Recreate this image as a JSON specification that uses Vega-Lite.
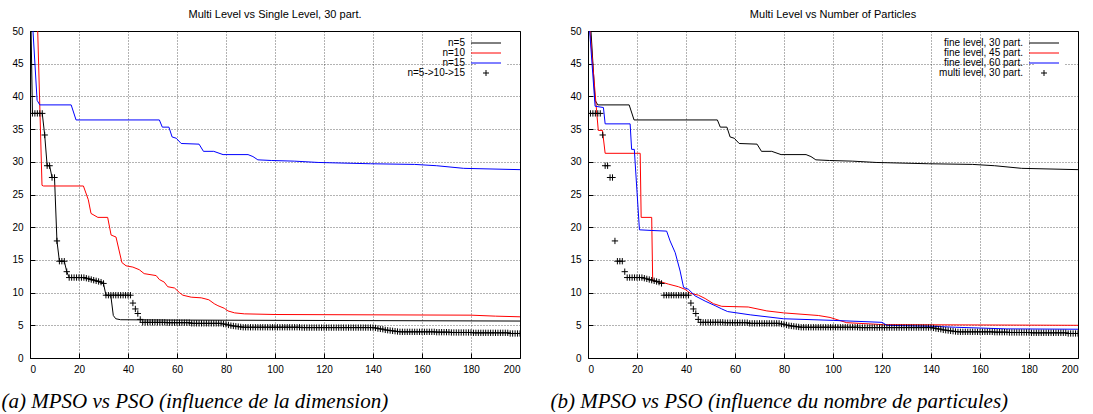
{
"$schema": "https://vega.github.io/schema/vega-lite/v6.json",
"padding": {"left": 0, "top": 8, "right": 0, "bottom": 0},
"background": "white",
"spacing": 68,
"bounds": "flush",
"config": {
  "font": "Liberation Sans",
  "view": {"stroke": "#000", "strokeWidth": 1},
  "axis": {"grid": true, "gridColor": "#000", "gridDash": [1, 2], "gridOpacity": 0.75, "gridWidth": 0.8, "domain": false, "ticks": true, "tickSize": -5, "tickColor": "#000", "tickWidth": 1, "labelFont": "Liberation Sans", "labelFontSize": 10, "labelColor": "#000"},
  "axisX": {"labelPadding": 11, "titleFont": "Liberation Serif", "titleFontStyle": "italic", "titleFontSize": 21, "titleFontWeight": "normal", "titleColor": "#000", "titleAnchor": "start", "titleAlign": "left", "titleY": 49, "titleBaseline": "alphabetic"},
  "axisY": {"labelPadding": 12},
  "title": {"fontSize": 11, "fontWeight": "normal", "color": "#000", "offset": 6, "font": "Liberation Sans"},
  "legend": {"orient": "none", "padding": 4, "fillColor": "white", "labelFontSize": 10, "labelFont": "Liberation Sans", "labelColor": "#000", "labelAlign": "right", "labelOffset": -26, "symbolType": "M-3.75,0H3.75", "symbolSize": 64, "symbolStrokeWidth": 1, "rowPadding": 0, "labelLimit": 300}
},
"resolve": {"scale": {"color": "independent"}, "legend": {"color": "independent"}},
"datasets": {
  "n5": [{"x":0,"y":60},{"x":1,"y":37.4},{"x":5,"y":37.4},{"x":6,"y":34.1},{"x":7,"y":29.4},{"x":8,"y":29.4},{"x":9,"y":27.6},{"x":10,"y":27.6},{"x":11,"y":17.9},{"x":12,"y":14.8},{"x":14,"y":14.8},{"x":15,"y":13.2},{"x":16,"y":12.3},{"x":22,"y":12.3},{"x":24,"y":12.1},{"x":26,"y":11.9},{"x":28,"y":11.7},{"x":29,"y":11.6},{"x":30,"y":11.4},{"x":31,"y":9.6},{"x":33,"y":9.5},{"x":34,"y":6.5},{"x":35,"y":6.0},{"x":37,"y":5.85},{"x":60,"y":5.8},{"x":200,"y":5.65}],
  "n10": [{"x":2.4,"y":60},{"x":4.9,"y":26.4},{"x":5.5,"y":26.3},{"x":21.8,"y":26.3},{"x":23.8,"y":24.2},{"x":24.9,"y":22.1},{"x":27.7,"y":21.5},{"x":31.7,"y":21.5},{"x":33.1,"y":18.8},{"x":35.1,"y":18.5},{"x":37.5,"y":14.6},{"x":39.2,"y":14.1},{"x":42,"y":13.9},{"x":44.6,"y":13.5},{"x":46.6,"y":12.9},{"x":51.5,"y":12.6},{"x":52.8,"y":12.0},{"x":54.8,"y":11.6},{"x":56.2,"y":10.9},{"x":59,"y":10.7},{"x":61,"y":10.0},{"x":62.4,"y":9.6},{"x":65.8,"y":9.3},{"x":69.9,"y":9.2},{"x":73,"y":8.9},{"x":75.2,"y":8.3},{"x":76.7,"y":8.0},{"x":79.3,"y":7.6},{"x":80.8,"y":7.2},{"x":83.5,"y":6.9},{"x":87.5,"y":6.75},{"x":100,"y":6.65},{"x":180,"y":6.55},{"x":190,"y":6.4},{"x":200,"y":6.3}],
  "n15": [{"x":0.9,"y":52},{"x":2.9,"y":39.4},{"x":4,"y":38.7},{"x":16.8,"y":38.7},{"x":18.8,"y":36.4},{"x":52.8,"y":36.4},{"x":54,"y":35.3},{"x":56.7,"y":35.3},{"x":58,"y":33.8},{"x":59.7,"y":33.6},{"x":61.7,"y":32.8},{"x":69,"y":32.7},{"x":70.8,"y":31.6},{"x":75,"y":31.6},{"x":78.8,"y":31.1},{"x":89,"y":31.1},{"x":91,"y":30.8},{"x":93,"y":30.3},{"x":98.5,"y":30.2},{"x":108,"y":30.1},{"x":117.6,"y":29.9},{"x":139,"y":29.7},{"x":157,"y":29.6},{"x":166,"y":29.4},{"x":177,"y":29.0},{"x":200,"y":28.8}],
  "f45": [{"x":0.4,"y":52},{"x":3.5,"y":37.8},{"x":4.2,"y":34.8},{"x":5.9,"y":34.8},{"x":7,"y":31.3},{"x":21.3,"y":31.3},{"x":21.7,"y":21.5},{"x":26,"y":21.5},{"x":26.4,"y":11.8},{"x":30.1,"y":11.6},{"x":32.8,"y":11.3},{"x":36.9,"y":10.9},{"x":39.6,"y":10.5},{"x":41.7,"y":9.9},{"x":45.1,"y":9.6},{"x":47.8,"y":9.1},{"x":51.2,"y":8.3},{"x":54.6,"y":7.9},{"x":65.4,"y":7.8},{"x":73,"y":7.2},{"x":79.8,"y":6.9},{"x":94,"y":6.5},{"x":98.8,"y":6.2},{"x":105.6,"y":5.4},{"x":120.6,"y":5.1},{"x":200,"y":5.0}],
  "f60": [{"x":0.3,"y":52},{"x":2.9,"y":38.5},{"x":6.3,"y":38.3},{"x":7,"y":35.8},{"x":17.2,"y":35.8},{"x":17.8,"y":31.9},{"x":18.9,"y":31.9},{"x":21,"y":19.6},{"x":26,"y":19.5},{"x":32.1,"y":19.4},{"x":33.5,"y":17.9},{"x":35.6,"y":16.1},{"x":37.6,"y":13.3},{"x":39,"y":10.8},{"x":41,"y":10.5},{"x":43.7,"y":9.5},{"x":47.8,"y":8.7},{"x":51.9,"y":8.0},{"x":54.6,"y":7.5},{"x":57,"y":7.1},{"x":66.2,"y":6.6},{"x":79.8,"y":6.0},{"x":100.2,"y":5.75},{"x":120,"y":5.45},{"x":122,"y":5.0},{"x":140,"y":4.85},{"x":150,"y":4.7},{"x":171,"y":4.45},{"x":200,"y":4.4}],
  "multi": [{"x":1,"y":37.4},{"x":2,"y":37.4},{"x":3,"y":37.4},{"x":4,"y":37.4},{"x":5,"y":37.4},{"x":6,"y":34.1},{"x":7,"y":29.4},{"x":8,"y":29.4},{"x":9,"y":27.6},{"x":10,"y":27.6},
  {"x":11,"y":17.9},{"x":12,"y":14.8},{"x":13,"y":14.8},{"x":14,"y":14.8},{"x":15,"y":13.2},{"x":16,"y":12.3},{"x":17,"y":12.3},{"x":18,"y":12.3},{"x":19,"y":12.3},{"x":20,"y":12.3},
  {"x":21,"y":12.3},{"x":22,"y":12.3},{"x":23,"y":12.2},{"x":24,"y":12.1},{"x":25,"y":12.0},{"x":26,"y":11.9},{"x":27,"y":11.8},{"x":28,"y":11.7},{"x":29,"y":11.6},{"x":30,"y":11.4},
  {"x":31,"y":9.6},{"x":32,"y":9.6},{"x":33,"y":9.6},{"x":34,"y":9.6},{"x":35,"y":9.6},{"x":36,"y":9.6},{"x":37,"y":9.6},{"x":38,"y":9.6},{"x":39,"y":9.6},{"x":40,"y":9.6},
  {"x":41,"y":9.6},{"x":42,"y":8.4},{"x":43,"y":7.5},{"x":44,"y":6.8},{"x":45,"y":5.9},{"x":46,"y":5.45},{"x":47,"y":5.45},{"x":48,"y":5.45},{"x":49,"y":5.45},{"x":50,"y":5.45},
  {"x":51,"y":5.45},{"x":52,"y":5.45},{"x":53,"y":5.45},{"x":54,"y":5.45},{"x":55,"y":5.45},{"x":56,"y":5.4},{"x":57,"y":5.4},{"x":58,"y":5.4},{"x":59,"y":5.4},{"x":60,"y":5.4},
  {"x":61,"y":5.4},{"x":62,"y":5.4},{"x":63,"y":5.4},{"x":64,"y":5.4},{"x":65,"y":5.4},{"x":66,"y":5.3},{"x":67,"y":5.3},{"x":68,"y":5.3},{"x":69,"y":5.3},{"x":70,"y":5.3},
  {"x":71,"y":5.3},{"x":72,"y":5.3},{"x":73,"y":5.3},{"x":74,"y":5.3},{"x":75,"y":5.3},{"x":76,"y":5.3},{"x":77,"y":5.3},{"x":78,"y":5.3},{"x":79,"y":5.2},{"x":80,"y":5.15},
  {"x":81,"y":5.05},{"x":82,"y":4.95},{"x":83,"y":4.9},{"x":84,"y":4.85},{"x":85,"y":4.8},{"x":86,"y":4.75},{"x":87,"y":4.7},{"x":88,"y":4.7},{"x":89,"y":4.7},{"x":90,"y":4.7},
  {"x":91,"y":4.7},{"x":92,"y":4.7},{"x":93,"y":4.7},{"x":94,"y":4.7},{"x":95,"y":4.7},{"x":96,"y":4.7},{"x":97,"y":4.7},{"x":98,"y":4.7},{"x":99,"y":4.7},{"x":100,"y":4.7},
  {"x":101,"y":4.7},{"x":102,"y":4.7},{"x":103,"y":4.7},{"x":104,"y":4.7},{"x":105,"y":4.7},{"x":106,"y":4.7},{"x":107,"y":4.7},{"x":108,"y":4.7},{"x":109,"y":4.7},{"x":110,"y":4.7},
  {"x":111,"y":4.65},{"x":112,"y":4.65},{"x":113,"y":4.65},{"x":114,"y":4.65},{"x":115,"y":4.65},{"x":116,"y":4.65},{"x":117,"y":4.65},{"x":118,"y":4.65},{"x":119,"y":4.65},{"x":120,"y":4.65},
  {"x":121,"y":4.65},{"x":122,"y":4.65},{"x":123,"y":4.65},{"x":124,"y":4.65},{"x":125,"y":4.65},{"x":126,"y":4.65},{"x":127,"y":4.65},{"x":128,"y":4.65},{"x":129,"y":4.65},{"x":130,"y":4.65},
  {"x":131,"y":4.65},{"x":132,"y":4.65},{"x":133,"y":4.65},{"x":134,"y":4.65},{"x":135,"y":4.65},{"x":136,"y":4.65},{"x":137,"y":4.65},{"x":138,"y":4.65},{"x":139,"y":4.65},{"x":140,"y":4.65},
  {"x":141,"y":4.6},{"x":142,"y":4.5},{"x":143,"y":4.45},{"x":144,"y":4.4},{"x":145,"y":4.3},{"x":146,"y":4.25},{"x":147,"y":4.2},{"x":148,"y":4.15},{"x":149,"y":4.1},{"x":150,"y":4.05},
  {"x":151,"y":4.0},{"x":152,"y":4.0},{"x":153,"y":4.0},{"x":154,"y":4.0},{"x":155,"y":4.0},{"x":156,"y":4.0},{"x":157,"y":4.0},{"x":158,"y":4.0},{"x":159,"y":4.0},{"x":160,"y":4.0},
  {"x":161,"y":4.0},{"x":162,"y":4.0},{"x":163,"y":4.0},{"x":164,"y":4.0},{"x":165,"y":4.0},{"x":166,"y":3.95},{"x":167,"y":3.95},{"x":168,"y":3.95},{"x":169,"y":3.95},{"x":170,"y":3.95},
  {"x":171,"y":3.95},{"x":172,"y":3.9},{"x":173,"y":3.9},{"x":174,"y":3.9},{"x":175,"y":3.9},{"x":176,"y":3.9},{"x":177,"y":3.9},{"x":178,"y":3.9},{"x":179,"y":3.9},{"x":180,"y":3.9},
  {"x":181,"y":3.85},{"x":182,"y":3.85},{"x":183,"y":3.85},{"x":184,"y":3.85},{"x":185,"y":3.85},{"x":186,"y":3.85},{"x":187,"y":3.85},{"x":188,"y":3.85},{"x":189,"y":3.85},{"x":190,"y":3.85},
  {"x":191,"y":3.85},{"x":192,"y":3.85},{"x":193,"y":3.85},{"x":194,"y":3.85},{"x":195,"y":3.85},{"x":196,"y":3.75},{"x":197,"y":3.75},{"x":198,"y":3.75},{"x":199,"y":3.75},{"x":200,"y":3.75}]
},
"hconcat": [
  {
    "width": 490, "height": 327,
    "title": "Multi Level vs Single Level, 30 part.",
    "encoding": {
      "x": {"field": "x", "type": "quantitative", "scale": {"domain": [0, 200], "nice": false}, "axis": {"values": [0,20,40,60,80,100,120,140,160,180,200], "title": "(a) MPSO vs PSO (influence de la dimension)", "titleX": -29}},
      "y": {"field": "y", "type": "quantitative", "scale": {"domain": [0, 50], "nice": false}, "axis": {"values": [0,5,10,15,20,25,30,35,40,45,50], "title": null}}
    },
    "layer": [
      {"data": {"name": "n5"}, "mark": {"type": "line", "strokeWidth": 1, "clip": true},
       "encoding": {"color": {"datum": "n=5", "type": "nominal",
         "scale": {"domain": ["n=5", "n=10", "n=15", "n=5->10->15"], "range": ["#000000", "#ff0000", "#0000ff", "#000000"]},
         "legend": {"title": null, "legendX": 447, "legendY": 3, "encode": {"symbols": {"update": {
            "shape": {"signal": "datum.index === 3 ? 'M-0.75,0H0.75M0,-0.75V0.75' : 'M-3.75,0H3.75'"},
            "stroke": {"signal": "datum.index === 1 ? '#ff0000' : datum.index === 2 ? '#0000ff' : '#000000'"},
            "fill": {"value": "transparent"}}}}}}}},
      {"data": {"name": "n10"}, "mark": {"type": "line", "strokeWidth": 1, "clip": true}, "encoding": {"color": {"datum": "n=10", "type": "nominal"}}},
      {"data": {"name": "n15"}, "mark": {"type": "line", "strokeWidth": 1, "clip": true}, "encoding": {"color": {"datum": "n=15", "type": "nominal"}}},
      {"data": {"name": "multi"}, "mark": {"type": "point", "shape": "M-1,0H1M0,-1V1", "filled": false, "size": 40, "strokeWidth": 1, "opacity": 1, "clip": true}, "encoding": {"color": {"datum": "n=5->10->15", "type": "nominal"}}}
    ]
  },
  {
    "width": 490, "height": 327,
    "title": "Multi Level vs Number of Particles",
    "encoding": {
      "x": {"field": "x", "type": "quantitative", "scale": {"domain": [0, 200], "nice": false}, "axis": {"values": [0,20,40,60,80,100,120,140,160,180,200], "title": "(b) MPSO vs PSO (influence du nombre de particules)", "titleX": -38}},
      "y": {"field": "y", "type": "quantitative", "scale": {"domain": [0, 50], "nice": false}, "axis": {"values": [0,5,10,15,20,25,30,35,40,45,50], "title": null}}
    },
    "layer": [
      {"data": {"name": "n15"}, "mark": {"type": "line", "strokeWidth": 1, "clip": true},
       "encoding": {"color": {"datum": "fine level, 30 part.", "type": "nominal",
         "scale": {"domain": ["fine level, 30 part.", "fine level, 45 part.", "fine level, 60 part.", "multi level, 30 part."], "range": ["#000000", "#ff0000", "#0000ff", "#000000"]},
         "legend": {"title": null, "legendX": 447, "legendY": 3, "encode": {"symbols": {"update": {
            "shape": {"signal": "datum.index === 3 ? 'M-0.75,0H0.75M0,-0.75V0.75' : 'M-3.75,0H3.75'"},
            "stroke": {"signal": "datum.index === 1 ? '#ff0000' : datum.index === 2 ? '#0000ff' : '#000000'"},
            "fill": {"value": "transparent"}}}}}}}},
      {"data": {"name": "f45"}, "mark": {"type": "line", "strokeWidth": 1, "clip": true}, "encoding": {"color": {"datum": "fine level, 45 part.", "type": "nominal"}}},
      {"data": {"name": "f60"}, "mark": {"type": "line", "strokeWidth": 1, "clip": true}, "encoding": {"color": {"datum": "fine level, 60 part.", "type": "nominal"}}},
      {"data": {"name": "multi"}, "mark": {"type": "point", "shape": "M-1,0H1M0,-1V1", "filled": false, "size": 40, "strokeWidth": 1, "opacity": 1, "clip": true}, "encoding": {"color": {"datum": "multi level, 30 part.", "type": "nominal"}}}
    ]
  }
]
}
